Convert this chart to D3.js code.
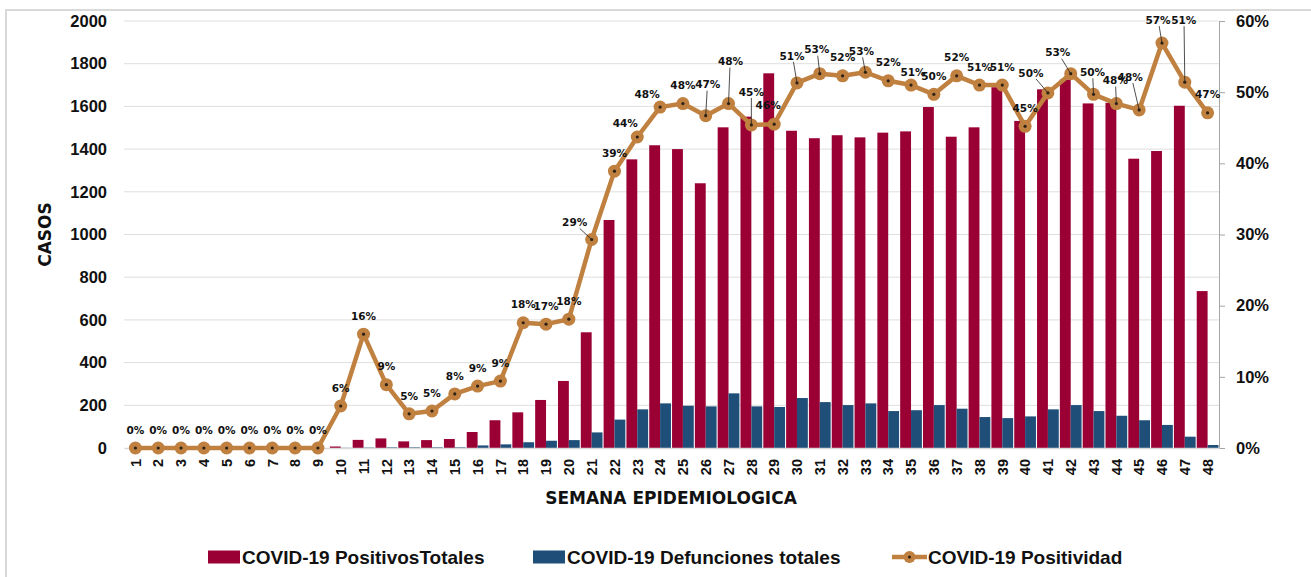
<!DOCTYPE html>
<html>
<head>
<meta charset="utf-8">
<script src="https://cdn.jsdelivr.net/npm/d3@7"></script>
<style>
  body { margin: 0; background: #fff; }
  svg { display: block; font-family: "DejaVu Sans", sans-serif; }
</style>
</head>
<body>
<svg id="chart"></svg>
<script>
// semanas epidemiologicas
let semanas = d3.range(1, 49);

let positivos = [0, 0, 0, 0, 0, 0, 0, 0, 0, 7, 38, 45, 31, 37, 42, 75, 130, 167, 225, 314,
    542, 1068, 1352, 1418, 1400, 1240, 1502, 1552, 1755, 1486, 1451, 1465, 1455, 1477, 1483, 1597,
    1458, 1502, 1690, 1532, 1680, 1726, 1614, 1617, 1355, 1391, 1603, 735];

let defunciones = [0, 0, 0, 0, 0, 0, 0, 0, 0, 1, 2, 3, 3, 3, 3, 12, 17, 27, 34, 37,
    73, 133, 181, 209, 198, 195, 256, 195, 192, 234, 215, 201, 209, 173, 177, 201,
    184, 145, 140, 148, 181, 201, 173, 151, 130, 108, 53, 14];

// positividad en %
let positividad = [0, 0, 0, 0, 0, 0, 0, 0, 0, 5.9, 16.0, 8.9, 4.8, 5.2, 7.6, 8.7, 9.4, 17.6, 17.4, 18.1,
    29.3, 38.9, 43.7, 47.9, 48.4, 46.7, 48.4, 45.4, 45.5, 51.3, 52.6, 52.3, 52.8, 51.6, 51.0, 49.7,
    52.3, 51.0, 51.0, 45.2, 49.9, 52.6, 49.7, 48.4, 47.5, 56.9, 51.4, 47.1];

let casosTicks = d3.range(0, 2001, 200);
let pctTicks = [0, 0.1, 0.2, 0.3, 0.4, 0.5, 0.6];

let seriesNames = ["COVID-19 PositivosTotales", "COVID-19 Defunciones totales", "COVID-19 Positividad"];

// desplazamiento de etiquetas que no van justo encima del punto [semana, dx, dy]
let labelNudge = [
    [21, -17, -17], [23, -12, -14], [24, -13, -13], [26, 2, -31], [27, 2, -42], [28, 0, -33],
    [29, -6, -19], [30, -5, -27], [31, -3, -24], [33, -4, -21], [35, 2, -13], [41, -17, -20],
    [42, -13, -21], [43, -1, -22], [44, -1, -23], [45, -9, -33], [46, -4, -23], [47, -1, -62]
];

const width = 1311, height = 577;
const margin = { top: 21, right: 92, bottom: 129, left: 124 };
const colRed = "#9b0034", colBlue = "#1f4e79", colLine = "#c0803f";

let svg = d3.select("#chart")
    .attr("width", width)
    .attr("height", height);

// marco
svg.append("path")
    .attr("d", `M6,${height} V10 H${width}`)
    .attr("fill", "none")
    .attr("stroke", "#d9d9d9")
    .attr("stroke-width", 2);

let x = d3.scaleBand()
    .domain(semanas)
    .range([margin.left, width - margin.right]);

let xInner = d3.scaleBand()
    .domain(["pos", "def"])
    .range([0, x.bandwidth()])
    .paddingOuter(0.05)
    .paddingInner(0);

let y = d3.scaleLinear()
    .domain([0, 2000])
    .range([height - margin.bottom, margin.top]);

let y2 = d3.scaleLinear()
    .domain([0, 0.6])
    .range([height - margin.bottom, margin.top]);

// grid
svg.append("g")
    .selectAll("line")
    .data(casosTicks.slice(1))
    .enter()
    .append("line")
    .attr("x1", margin.left)
    .attr("x2", width - margin.right)
    .attr("y1", d => y(d))
    .attr("y2", d => y(d))
    .attr("stroke", "#dedede")
    .attr("stroke-width", 1);

// eje izquierdo
let yAxis = svg.append("g")
    .attr("transform", `translate(${margin.left},0)`)
    .call(d3.axisLeft(y).tickValues(casosTicks).tickFormat(d3.format("d")).tickSize(0).tickPadding(17));
yAxis.select(".domain").remove();
yAxis.selectAll("text")
    .attr("font-size", 16.5)
    .attr("font-weight", "bold")
    .attr("fill", "#111");

// eje derecho
let y2Axis = svg.append("g")
    .attr("transform", `translate(${width - margin.right},0)`)
    .call(d3.axisRight(y2).tickValues(pctTicks).tickFormat(d3.format(".0%")).tickSize(6).tickSizeOuter(0).tickPadding(11));
y2Axis.select(".domain").attr("stroke", "#a6a6a6");
y2Axis.selectAll("line").attr("stroke", "#a6a6a6");
y2Axis.selectAll("text")
    .attr("font-size", 16.5)
    .attr("font-weight", "bold")
    .attr("fill", "#111");

// barras
let table = semanas.map((s, i) => ({ semana: s, pos: positivos[i], def: defunciones[i], pct: positividad[i] / 100 }));

let groups = svg.append("g")
    .selectAll("g")
    .data(table)
    .enter()
    .append("g")
    .attr("transform", d => `translate(${x(d.semana)},0)`);

groups.append("rect")
    .attr("x", xInner("pos"))
    .attr("width", xInner.bandwidth())
    .attr("y", d => y(d.pos))
    .attr("height", d => y(0) - y(d.pos))
    .attr("fill", colRed);

groups.append("rect")
    .attr("x", xInner("def"))
    .attr("width", xInner.bandwidth())
    .attr("y", d => y(d.def))
    .attr("height", d => y(0) - y(d.def))
    .attr("fill", colBlue);

// eje x
let xAxis = svg.append("g")
    .attr("transform", `translate(0,${y(0)})`)
    .call(d3.axisBottom(x).tickSize(0));
xAxis.select(".domain").attr("stroke", "#d9d9d9").attr("stroke-width", 1.5);
xAxis.selectAll("text")
    .attr("transform", "rotate(-90)")
    .attr("x", -11)
    .attr("y", 0)
    .attr("dy", "0.36em")
    .attr("text-anchor", "end")
    .attr("font-size", 14.5)
    .attr("font-weight", "bold")
    .attr("fill", "#111");

// linea positividad
let cx = d => x(d.semana) + x.bandwidth() / 2;

let line = d3.line()
    .x(cx)
    .y(d => y2(d.pct));

svg.append("path")
    .datum(table)
    .attr("d", line)
    .attr("fill", "none")
    .attr("stroke", colLine)
    .attr("stroke-width", 4.5)
    .attr("stroke-linejoin", "round");

svg.append("g")
    .selectAll("circle")
    .data(table)
    .enter()
    .append("circle")
    .attr("cx", cx)
    .attr("cy", d => y2(d.pct))
    .attr("r", 6.5)
    .attr("fill", colLine);

// etiquetas
let nudge = new Map(labelNudge.map(n => [n[0], [n[1], n[2]]]));
let pos = d => nudge.get(d.semana) || [0, -18];

let labels = svg.append("g");

labels.selectAll("line")
    .data(table.filter(d => {
        let [dx, dy] = pos(d);
        return Math.abs(dy) > 20 || Math.abs(dx) > 14;
    }))
    .enter()
    .append("line")
    .attr("x1", cx)
    .attr("y1", d => y2(d.pct))
    .attr("x2", d => cx(d) + pos(d)[0] * 0.7)
    .attr("y2", d => y2(d.pct) + pos(d)[1] + 6)
    .attr("stroke", "#222")
    .attr("stroke-width", 0.8);

svg.append("g")
    .selectAll("circle")
    .data(table)
    .enter()
    .append("circle")
    .attr("cx", cx)
    .attr("cy", d => y2(d.pct))
    .attr("r", 1.6)
    .attr("fill", "#2b2116");

labels.selectAll("text")
    .data(table)
    .enter()
    .append("text")
    .attr("x", d => cx(d) + pos(d)[0])
    .attr("y", d => y2(d.pct) + pos(d)[1])
    .attr("dy", "0.35em")
    .attr("text-anchor", "middle")
    .attr("font-size", 10.5)
    .attr("font-weight", "bold")
    .attr("fill", "#111")
    .text(d => Math.round(d.pct * 100) + "%");

// titulos de ejes
svg.append("text")
    .attr("transform", `translate(51,${(y(0) + y(2000)) / 2}) rotate(-90)`)
    .attr("text-anchor", "middle")
    .attr("font-size", 17)
    .attr("font-weight", "bold")
    .attr("fill", "#111")
    .text("CASOS");

svg.append("text")
    .attr("x", 671)
    .attr("y", 504)
    .attr("text-anchor", "middle")
    .attr("font-size", 17)
    .attr("font-weight", "bold")
    .attr("fill", "#111")
    .text("SEMANA EPIDEMIOLOGICA");

// leyenda
let legendX = [208, 533, 892];
let legend = svg.append("g")
    .selectAll("g")
    .data(seriesNames)
    .enter()
    .append("g")
    .attr("transform", (d, i) => `translate(${legendX[i]},557)`);

legend.filter((d, i) => i < 2)
    .append("rect")
    .attr("x", 0)
    .attr("y", -6.5)
    .attr("width", 32)
    .attr("height", 13)
    .attr("fill", (d, i) => i == 0 ? colRed : colBlue);

let lineKey = legend.filter((d, i) => i == 2);
lineKey.append("line")
    .attr("x1", 0).attr("x2", 35)
    .attr("stroke", colLine)
    .attr("stroke-width", 4.5);
lineKey.append("circle")
    .attr("cx", 17.5)
    .attr("r", 6)
    .attr("fill", colLine);
lineKey.append("circle")
    .attr("cx", 17.5)
    .attr("r", 1.5)
    .attr("fill", "#2b2116");

legend.append("text")
    .attr("x", (d, i) => i == 2 ? 36 : 34)
    .attr("dy", "0.36em")
    .attr("font-family", "'Liberation Sans Narrow', 'Liberation Sans', sans-serif")
    .attr("font-size", 19)
    .attr("font-weight", "bold")
    .attr("fill", "#111")
    .text(d => d);
</script>
</body>
</html>
